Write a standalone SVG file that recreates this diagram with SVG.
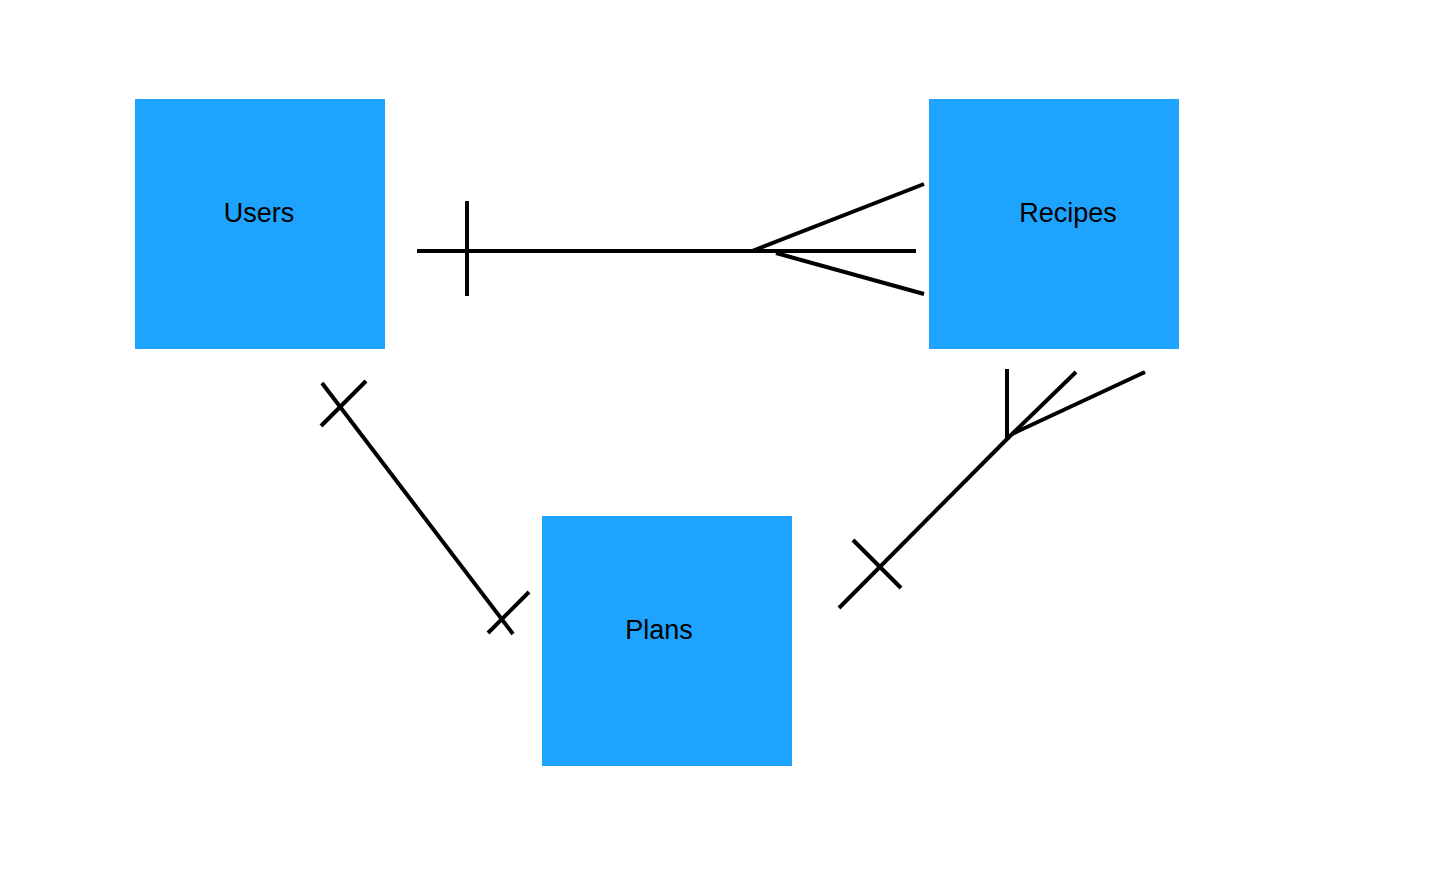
<svg xmlns="http://www.w3.org/2000/svg" width="1442" height="896" viewBox="0 0 1442 896">
<style>
.box{fill:#1EA3FF}
.lbl{font-family:"Liberation Sans",Arial,sans-serif;font-size:27px;fill:#000;text-anchor:middle}
.ln{stroke:#000;stroke-width:4;fill:none;stroke-linecap:butt}
</style>
<rect width="1442" height="896" fill="#fff"/>
<g id="users">
<rect class="box" x="135" y="99" width="250" height="250"/>
<text class="lbl" x="259" y="222">Users</text>
</g>
<g id="recipes">
<rect class="box" x="929" y="99" width="250" height="250"/>
<text class="lbl" x="1068" y="222">Recipes</text>
</g>
<g id="plans">
<rect class="box" x="542" y="516" width="250" height="250"/>
<text class="lbl" x="659" y="639">Plans</text>
</g>
<g id="connectors">
<g id="users-recipes">
<line class="ln" x1="417" y1="251" x2="916" y2="251"/>
<line class="ln" x1="467" y1="201" x2="467" y2="296"/>
<line class="ln" x1="752" y1="251" x2="924" y2="184"/>
<line class="ln" x1="776" y1="253" x2="924" y2="294"/>
</g>
<g id="users-plans">
<line class="ln" x1="322" y1="383" x2="513" y2="634"/>
<line class="ln" x1="321" y1="426" x2="366" y2="381"/>
<line class="ln" x1="488" y1="633" x2="529" y2="592"/>
</g>
<g id="plans-recipes">
<line class="ln" x1="839" y1="608" x2="1009" y2="437"/>
<line class="ln" x1="853" y1="540" x2="901" y2="588"/>
<line class="ln" x1="1007" y1="369" x2="1007" y2="438"/>
<line class="ln" x1="1008" y1="438" x2="1076" y2="372"/>
<line class="ln" x1="1012" y1="434" x2="1145" y2="372"/>
</g>
</g>
</svg>
